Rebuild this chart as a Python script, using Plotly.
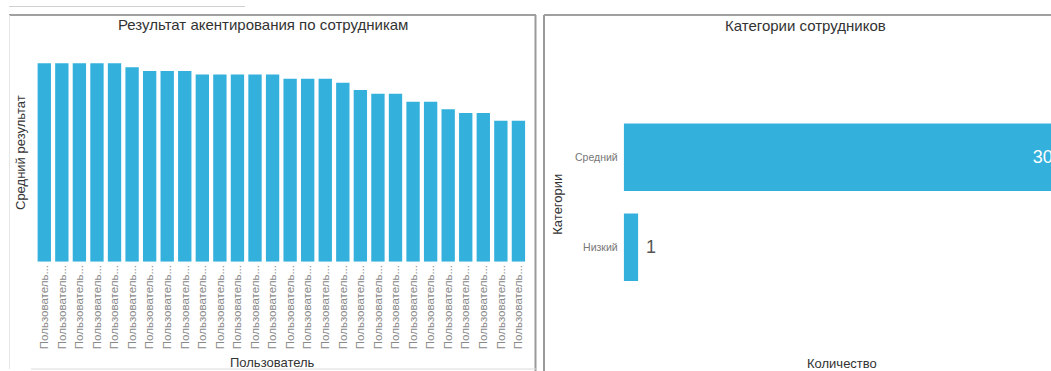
import plotly.graph_objects as go

# ---- data ----
users = [f"Пользователь {i}" for i in range(1, 29)]
user_tick_labels = ["Пользователь..."] * 28
avg_result = [100, 100, 100, 100, 100, 98.0, 96.1, 96.1, 96.1, 94.3, 94.3, 94.3, 94.3, 94.3,
              92.2, 92.2, 92.2, 90.2, 86.5, 84.7, 84.7, 80.6, 80.6, 76.8, 74.9, 74.9, 71.1, 71.1]
categories = ["Низкий", "Средний"]
cat_counts = [1, 30]

W, H = 1100, 400
BAR = "#33b0dc"
FONT = "Liberation Sans, Arial, sans-serif"

def px(x):
    return x / W

def py(y):
    return 1 - y / H

fig = go.Figure()

fig.add_trace(go.Bar(
    x=users, y=avg_result, marker=dict(color=BAR, line=dict(width=0)),
    xaxis="x", yaxis="y", showlegend=False, hoverinfo="x+y",
))

fig.add_trace(go.Bar(
    x=cat_counts, y=categories, orientation="h", width=0.75,
    marker=dict(color=BAR, line=dict(width=0)),
    text=cat_counts, texttemplate="\u00a0%{x}", textposition="auto",
    insidetextfont=dict(color="white", size=18, family=FONT),
    outsidetextfont=dict(color="#555", size=18, family=FONT),
    insidetextanchor="end",
    xaxis="x2", yaxis="y2", showlegend=False, cliponaxis=False,
))

fig.update_layout(
    width=W, height=H,
    margin=dict(l=0, r=0, t=0, b=0),
    paper_bgcolor="white", plot_bgcolor="white",
    font=dict(family=FONT, color="#444"),
    bargap=0.24,
    xaxis=dict(domain=[px(35.5), px(527.2)], anchor="y",
               tickmode="array", tickvals=users, ticktext=user_tick_labels,
               tickangle=-90, tickfont=dict(size=11.5, color="#888"),
               ticks="", showgrid=False, zeroline=False, showline=False),
    yaxis=dict(domain=[py(261.7), py(53)], anchor="x", range=[0, 105.2],
               showticklabels=False, ticks="", showgrid=False, zeroline=False, showline=False),
    xaxis2=dict(domain=[px(623.7), px(1078.7)], anchor="y2", range=[0, 31.6],
                showticklabels=False, ticks="", showgrid=False, zeroline=False, showline=False),
    yaxis2=dict(domain=[py(292.2), py(112.2)], anchor="x2", range=[-0.5, 1.5],
                tickfont=dict(size=10.5, color="#777"), ticks="", ticklabelstandoff=5,
                showgrid=False, zeroline=False, showline=False),
)

annotations = [
    dict(text="Результат акентирования по сотрудникам", x=px(263), y=py(24), size=15, color="#333", angle=0),
    dict(text="Пользователь", x=px(272.5), y=py(362), size=13, color="#333", angle=0),
    dict(text="Средний результат", x=px(20), y=py(153), size=13, color="#333", angle=-90),
    dict(text="Категории сотрудников", x=px(805), y=py(25), size=15, color="#333", angle=0),
    dict(text="Категории", x=px(556.7), y=py(204), size=13, color="#333", angle=-90),
    dict(text="Количество", x=px(842), y=py(363), size=13, color="#333", angle=0),
]
for a in annotations:
    fig.add_annotation(text=a["text"], x=a["x"], y=a["y"], xref="paper", yref="paper",
                       showarrow=False, textangle=a["angle"], xanchor="center", yanchor="middle",
                       font=dict(size=a["size"], color=a["color"], family=FONT))

lines = [
    # top stray line
    (9, 6.5, 245, 6.5, "#d0d0d0", 1),
    # left panel
    (9, 15, 536, 15, "#a0a0a0", 2),
    (9.5, 15, 9.5, 369, "#e6e6e6", 1),
    (535.5, 15, 535.5, 400, "#9a9a9a", 2),
    (31, 369, 536, 369, "#dcdcdc", 1),
    # right panel
    (544, 15, 1100, 15, "#a0a0a0", 2),
    (544, 15, 544, 400, "#9a9a9a", 2),
]
for x0, y0, x1, y1, c, w in lines:
    fig.add_shape(type="line", xref="paper", yref="paper",
                  x0=px(x0), y0=py(y0), x1=px(x1), y1=py(y1),
                  line=dict(color=c, width=w))

fig.write_html("out.html", config={"displayModeBar": False},
               post_script="document.documentElement.style.overflow='hidden';document.body.style.overflow='hidden';")
